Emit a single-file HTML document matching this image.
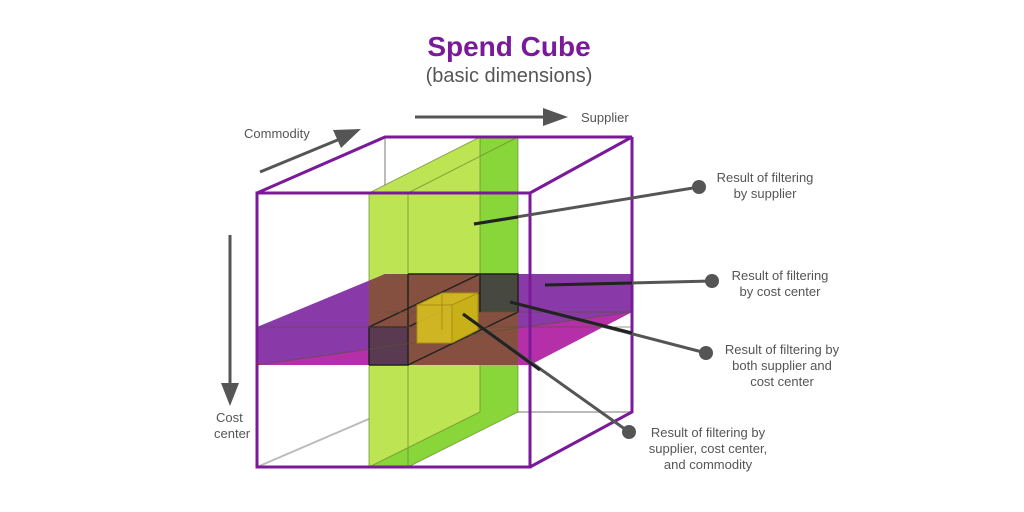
<!DOCTYPE html>
<html><head><style>body{margin:0;background:#fff}svg{display:block}</style></head><body>
<svg width="1024" height="512" viewBox="0 0 1024 512" xmlns="http://www.w3.org/2000/svg" font-family="Liberation Sans, sans-serif">
<text x="509" y="56" text-anchor="middle" font-size="28" font-weight="bold" fill="#7a1a9a">Spend Cube</text>
<text x="509" y="82" text-anchor="middle" font-size="20" fill="#555">(basic dimensions)</text>
<line x1="415" y1="117" x2="545" y2="117" stroke="#555" stroke-width="3"/>
<polygon points="543,108 568,117 543,126" fill="#555"/>
<text x="581" y="122" font-size="13" fill="#555">Supplier</text>
<line x1="260" y1="172" x2="340" y2="139" stroke="#555" stroke-width="3"/>
<polygon points="333,130 361,129 341,148" fill="#555"/>
<text x="244" y="138" font-size="13" fill="#555">Commodity</text>
<line x1="230" y1="235" x2="230" y2="385" stroke="#555" stroke-width="3"/>
<polygon points="221,383 230,406 239,383" fill="#555"/>
<text x="216" y="422" font-size="13" fill="#555">Cost</text>
<text x="214" y="438" font-size="13" fill="#555">center</text>
<g stroke="#bbb" stroke-width="2" fill="none">
<line x1="385" y1="137" x2="385" y2="412"/><line x1="385" y1="412" x2="632" y2="412"/><line x1="385" y1="412" x2="257" y2="467"/>
</g>
<!-- green slab -->
<polygon points="369,193 480,137 518,137 518,412 408,467 369,467" fill="#bde452"/>
<polygon points="480,137 518,137 518,412 480,412" fill="#88d63a"/>
<polygon points="369,467 480,412 518,412 408,467" fill="#88d63a"/>
<g stroke="#6a8a30" stroke-width="1" fill="none" opacity="0.7">
<polyline points="369,193 480,137 518,137 518,412 408,467 369,467 369,193"/>
<line x1="408" y1="193" x2="518" y2="137"/><line x1="408" y1="193" x2="408" y2="467"/><line x1="480" y1="137" x2="480" y2="412"/><line x1="369" y1="467" x2="480" y2="412"/><line x1="369" y1="193" x2="408" y2="193"/>
</g>
<!-- purple slab -->
<polygon points="257,327 385,274 632,274 632,312 530,365 257,365" fill="#8a3aa8"/>
<polygon points="257,365 632,312 530,365" fill="#b530a8"/>
<!-- intersection -->
<polygon points="385,274 518,274 518,365 369,365 369,281" fill="#85503f"/>
<polygon points="480,274 518,274 518,312 480,312" fill="#474840"/>
<polygon points="369,327 408,327 408,365 369,365" fill="#5a3a50"/>
<g stroke="#222" stroke-width="1.5" fill="none">
<polyline points="369,365 369,327 408,327 408,365 369,365"/><line x1="408" y1="327" x2="480" y2="293"/><polyline points="408,274 518,274 518,312 408,365"/><line x1="480" y1="274" x2="480" y2="312"/><line x1="369" y1="327" x2="480" y2="274"/><line x1="408" y1="274" x2="408" y2="327"/>
</g>
<g stroke="#553" stroke-width="1" fill="none" opacity="0.6"><line x1="257" y1="327" x2="632" y2="327"/><line x1="257" y1="365" x2="632" y2="312"/><line x1="385" y1="312" x2="632" y2="312"/></g>
<!-- yellow cube -->
<polygon points="417,305 442,293 478,293 478,330 452,343 417,343" fill="#d8c020" opacity="0.9"/>
<polygon points="452,305 478,293 478,330 452,343" fill="#c8b018"/>
<g stroke="#a89010" stroke-width="1" fill="none"><polyline points="417,305 442,293 478,293 478,330 452,343 417,343 417,305 452,305 478,293"/><line x1="452" y1="305" x2="452" y2="343"/><line x1="442" y1="293" x2="442" y2="330"/></g>
<g stroke="#7a1a9a" stroke-width="3" fill="none">
<rect x="257" y="193" width="273" height="274"/>
<polyline points="257,193 385,137 632,137 530,193"/><polyline points="632,137 632,412 530,467"/>
</g>
<g stroke="#555" stroke-width="3"><line x1="474" y1="224" x2="699" y2="187"/><line x1="545" y1="285" x2="712" y2="281"/><line x1="510" y1="302" x2="706" y2="353"/><line x1="463" y1="314" x2="629" y2="432"/></g>
<g stroke="#222" stroke-width="3"><line x1="474" y1="224" x2="518" y2="217"/><line x1="545" y1="285" x2="632" y2="283"/><line x1="510" y1="302" x2="632" y2="333"/><line x1="463" y1="314" x2="540" y2="370"/></g>
<g fill="#555"><circle cx="699" cy="187" r="7"/><circle cx="712" cy="281" r="7"/><circle cx="706" cy="353" r="7"/><circle cx="629" cy="432" r="7"/></g>
<g font-size="13" fill="#555" text-anchor="middle">
<text x="765" y="182">Result of filtering</text><text x="765" y="198">by supplier</text>
<text x="780" y="280">Result of filtering</text><text x="780" y="296">by cost center</text>
<text x="782" y="354">Result of filtering by</text><text x="782" y="370">both supplier and</text><text x="782" y="386">cost center</text>
<text x="708" y="437">Result of filtering by</text><text x="708" y="453">supplier, cost center,</text><text x="708" y="469">and commodity</text>
</g>
</svg>
</body></html>
